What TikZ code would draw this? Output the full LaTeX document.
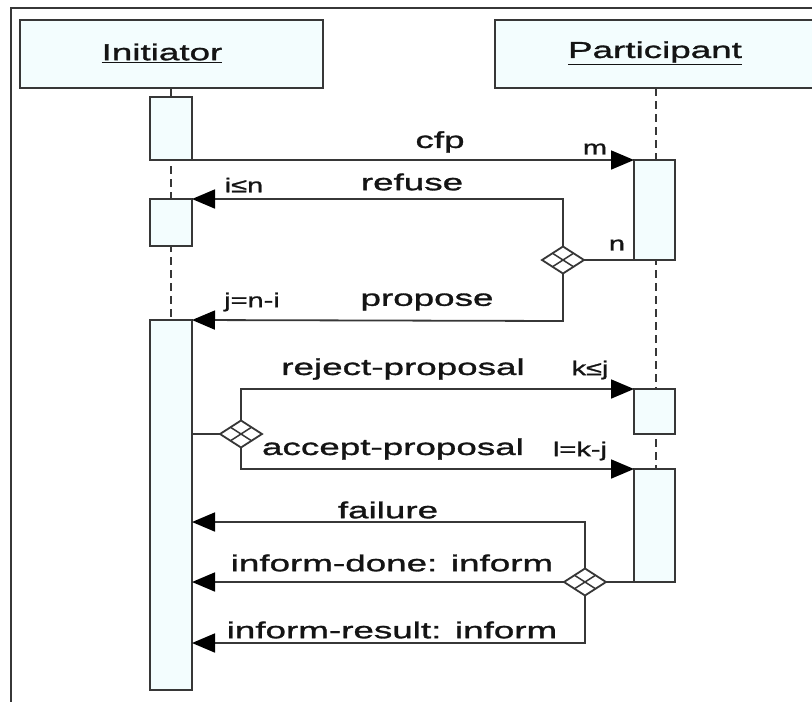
\documentclass[tikz,border=0pt]{standalone}
\usepackage{fontspec}
\setmainfont{Liberation Sans}[FakeStretch=1.6]
\newfontfamily\heavyfont{Liberation Sans}[FakeStretch=1.6,FakeBold=1.3]
\newfontfamily\tagfont{Liberation Sans}[FakeStretch=1.45,FakeBold=1.3]
\usetikzlibrary{arrows.meta,shapes.geometric,calc}

\definecolor{boxfill}{RGB}{243,253,254}
\definecolor{ink}{RGB}{55,55,55}
\definecolor{txt}{RGB}{20,20,20}

\tikzset{
  frameline/.style={draw=ink,line width=2pt},
  header/.style={draw=ink,fill=boxfill,line width=2.2pt},
  actbox/.style={draw=ink,fill=boxfill,line width=1.8pt,outer sep=0pt,inner sep=0pt,anchor=north west},
  lifeline/.style={draw=ink,line width=1.6pt,dash pattern=on 8pt off 5pt},
  msg/.style={draw=ink,line width=1.8pt,
    -{Triangle[length=23pt,width=19pt,fill=black,color=black]}},
  wire/.style={draw=ink,line width=1.8pt},
  lbl/.style={text=txt,inner sep=1pt,font=\heavyfont\fontsize{23}{26}\selectfont},
  small/.style={text=txt,inner sep=1pt,font=\tagfont\fontsize{20}{23}\selectfont},
  choice/.style={shape=diamond,draw=ink,fill=white,line width=1.8pt,outer sep=0pt,
    minimum width=42pt,minimum height=27pt,inner sep=0pt}
}

\newcommand{\splitdiamond}[1]{%
  \draw[ink,line width=1.5pt] ($(#1.north)!0.5!(#1.west)$) -- ($(#1.south)!0.5!(#1.east)$);
  \draw[ink,line width=1.5pt] ($(#1.north)!0.5!(#1.east)$) -- ($(#1.south)!0.5!(#1.west)$);
}

\begin{document}
\begin{tikzpicture}[x=1pt,y=-1pt]
\useasboundingbox (0,0) rectangle (812,702);
\clip (0,0) rectangle (812,702);
\fill[white] (0,0) rectangle (812,702);

% outer frame
\draw[frameline] (11,702) -- (11,8) -- (812,8);

% lifelines
\draw[lifeline] (171,88) -- (171,320);
\draw[lifeline] (656,88) -- (656,469);

% lifeline headers
\draw[header] (20,20) rectangle (323,88);
\node[lbl] (ini) at (162,53) {\underline{Initiator}};
\draw[header] (495,20) rectangle (830,88);
\node[lbl] (par) at (655,53) {\underline{Participant}};

% activation bars
\node[actbox,minimum width=42pt,minimum height=63pt] (ia1) at (150,97) {};
\node[actbox,minimum width=42pt,minimum height=47pt] (ia2) at (150,199) {};
\node[actbox,minimum width=42pt,minimum height=370pt] (ia3) at (150,320) {};
\node[actbox,minimum width=41pt,minimum height=100pt] (pa1) at (634,160) {};
\node[actbox,minimum width=41pt,minimum height=45pt] (pa2) at (634,389) {};
\node[actbox,minimum width=41pt,minimum height=113pt] (pa3) at (634,469) {};

% cfp
\draw[msg] (ia1.south east) -- (pa1.north west);
\node[lbl] (cfp) at (440,142) {cfp};
\node[small] (mm) at (595,149) {m};

% first decision: refuse / propose
\node[choice] (d1) at (563,260) {};
\splitdiamond{d1}
\draw[wire] (pa1.south west) -- (d1.east);
\node[small] (nn) at (617,245) {n};
\coordinate (r1) at (563,199);
\draw[msg] (d1.north) -- (r1) -- (ia2.north east);
\node[lbl] (refuse) at (412,182) {refuse};
\node[small] (iln) at (244,185) {i≤n};
\coordinate (p1) at (563,321);
\draw[msg] (d1.south) -- (p1) -- (ia3.north east);
\node[lbl] (propose) at (427,302) {propose};
\node[small] (jni) at (252,302) {j=n-i};

% second decision: reject / accept
\node[choice] (d2) at (241,434) {};
\splitdiamond{d2}
\draw[wire] (ia3.east |- d2) -- (d2.west);
\coordinate (r2) at (241,389);
\draw[msg] (d2.north) -- (r2) -- (pa2.north west);
\node[lbl] (reject) at (403,369) {reject-proposal};
\node[small] (klj) at (590,370) {k≤j};
\coordinate (a2) at (241,469);
\draw[msg] (d2.south) -- (a2) -- (pa3.north west);
\node[lbl] (accept) at (393,449) {accept-proposal};
\node[small] (lkj) at (580,451) {l=k-j};

% third decision: failure / inform-done / inform-result
\node[choice] (d3) at (585,582) {};
\splitdiamond{d3}
\draw[wire] (pa3.south west) -- (d3.east);
\coordinate (f3) at (585,522);
\draw[msg] (d3.north) -- (f3) -- (ia3.east |- f3);
\node[lbl,fill=white,inner sep=3pt] (failure) at (388,510) {failure};
\draw[msg] (d3.west) -- (ia3.east |- d3);
\node[lbl] (done) at (392,563) {inform-done: inform};
\coordinate (i3) at (585,643);
\draw[msg] (d3.south) -- (i3) -- (ia3.east |- i3);
\node[lbl] (result) at (392,630) {inform-result: inform};
\end{tikzpicture}
\end{document}
